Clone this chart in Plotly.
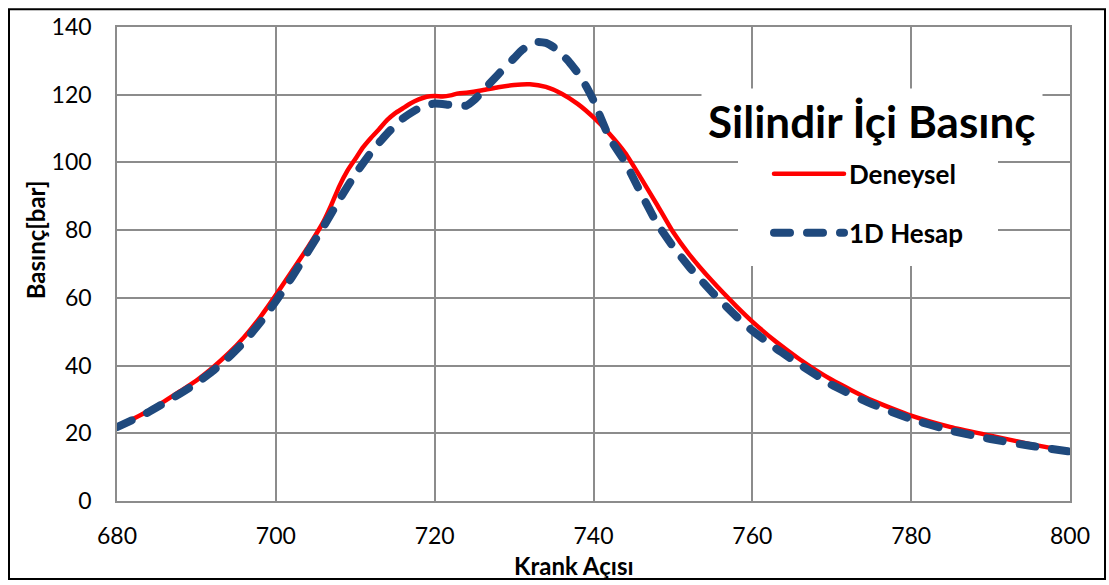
import plotly.graph_objects as go

# ---- data ----
angle_exp = [680, 682, 684, 686, 688, 690, 692, 694, 696, 698, 700, 702, 704, 706, 707, 708,
             709, 710, 711, 712, 713, 714, 715, 716, 717, 718, 719, 720, 721, 722, 723, 724,
             726, 728, 730, 732, 734, 736, 738, 740, 742, 744, 746, 748, 750, 752, 755, 758,
             760, 763, 766, 770, 775, 780, 785, 790, 795, 800]
p_exp = [21.8, 24.2, 26.7, 29.5, 32.5, 35.6, 39.3, 43.5, 48.4, 54.2, 60.8, 67.8, 74.8, 82.5, 87.5, 93.0,
         97.5, 101.0, 104.5, 107.3, 109.8, 112.5, 114.5, 116.0, 117.5, 118.6, 119.4, 119.6, 119.5, 119.8, 120.4, 120.6,
         121.3, 122.2, 122.9, 123.1, 122.3, 120.3, 117.3, 113.3, 108.5, 102.8, 95.3, 87.5, 79.5, 73.0, 64.8, 57.5,
         53.0, 47.0, 41.8, 35.8, 29.8, 25.2, 21.8, 19.3, 16.8, 14.6]

angle_1d = [680, 682, 684, 686, 688, 690, 692, 694, 696, 698, 700, 702, 704, 706, 708, 710,
            712, 714, 716, 718, 720, 722, 724, 725, 726, 728, 730, 731, 732, 733, 734, 735,
            736, 737, 738, 739, 740, 742, 744, 746, 748, 750, 752, 755, 758, 760, 763, 766,
            770, 775, 780, 785, 790, 795, 800]
p_1d = [21.8, 24.0, 26.3, 29.0, 31.8, 34.8, 38.3, 42.3, 47.0, 52.6, 59.0, 66.0, 73.5, 81.0, 89.0, 96.5,
        103.0, 108.5, 113.0, 116.0, 117.4, 117.0, 116.8, 118.5, 121.0, 126.0, 130.8, 133.2, 134.8, 135.6, 135.3, 134.0,
        132.0, 129.5, 126.5, 122.8, 118.3, 107.3, 100.0, 90.8, 82.0, 75.2, 69.3, 61.5, 54.5, 50.3, 45.0, 40.3,
        34.3, 28.7, 24.2, 20.8, 18.3, 16.3, 14.6]

series_names = ["Deneysel", "1D Hesap"]
x_ticks = [680, 700, 720, 740, 760, 780, 800]
y_ticks = [0, 20, 40, 60, 80, 100, 120, 140]
chart_title = "Silindir İçi Basınç"
x_title = "Krank Açısı"
y_title = "Basınç[bar]"

# ---- layout geometry (pixels) ----
W, H = 1109, 585
ML, MR, MT, MB = 117, 39, 21, 84
PW, PH = W - ML - MR, H - MT - MB


def px_x(x):
    return (x - ML) / PW


def px_y(y):
    return (H - MB - y) / PH


FONT = "Lato, 'Open Sans', sans-serif"
GRID = "#8c8c8c"

fig = go.Figure()
fig.add_trace(go.Scatter(
    x=angle_exp, y=p_exp, name=series_names[0], mode="lines",
    line=dict(color="#ff0000", width=4.5, shape="spline", smoothing=0.5),
    legendgroup="a"))
fig.add_trace(go.Scatter(
    x=angle_1d, y=p_1d, name=series_names[1], mode="lines",
    line=dict(color="#1f497d", width=8, dash="16px,17px", shape="spline", smoothing=0.5),
    legendgroup="b"))

axis_common = dict(showgrid=True, gridcolor=GRID, gridwidth=1.5, showline=True, linecolor=GRID,
                   linewidth=1.5, mirror=True, zeroline=False, ticks="",
                   tickfont=dict(family=FONT, size=23, color="#000"))

fig.update_layout(
    width=W, height=H,
    margin=dict(l=ML, r=MR, t=MT, b=MB),
    paper_bgcolor="white", plot_bgcolor="white",
    xaxis=dict(range=[680, 800], tickvals=x_ticks, ticklabelstandoff=14, **axis_common),
    yaxis=dict(range=[0, 140], tickvals=y_ticks, ticklabelstandoff=19, **axis_common),
    showlegend=True,
    legend=dict(x=px_x(769), y=px_y(146), xanchor="left", yanchor="top",
                bgcolor="rgba(0,0,0,0)", borderwidth=0, itemwidth=70, tracegroupgap=22,
                font=dict(family=FONT, size=26, color="#000", weight="bold")),
    shapes=[
        dict(type="rect", xref="paper", yref="paper", x0=px_x(738), x1=px_x(998), y0=px_y(263), y1=px_y(140),
             fillcolor="white", line=dict(width=0), layer="above"),
        dict(type="rect", xref="paper", yref="paper", x0=px_x(9), x1=px_x(1105), y0=px_y(580), y1=px_y(3),
             fillcolor="rgba(0,0,0,0)", line=dict(color="black", width=2), layer="above"),
    ],
    annotations=[
        dict(text=chart_title, xref="paper", yref="paper", x=px_x(872), y=px_y(116), xanchor="center",
             yanchor="middle", showarrow=False, bgcolor="white", borderpad=6,
             font=dict(family=FONT, size=44, color="#000", weight="bold")),
        dict(text=x_title, xref="paper", yref="paper", x=px_x(574), y=px_y(566), xanchor="center",
             yanchor="middle", showarrow=False, font=dict(family=FONT, size=24, color="#000", weight="bold")),
        dict(text=y_title, xref="paper", yref="paper", x=px_x(35), y=px_y(237), xanchor="center",
             yanchor="middle", showarrow=False, textangle=-90,
             font=dict(family=FONT, size=24, color="#000", weight="bold")),
    ],
)

post = """
var gd = document.getElementById('{plot_id}');
function rc(){ gd.querySelectorAll('path.js-line').forEach(function(p){p.style.strokeLinecap='round';p.style.strokeLinejoin='round';}); }
rc(); gd.on('plotly_afterplot', rc);
"""
fig.write_html("out.html", post_script=post)
